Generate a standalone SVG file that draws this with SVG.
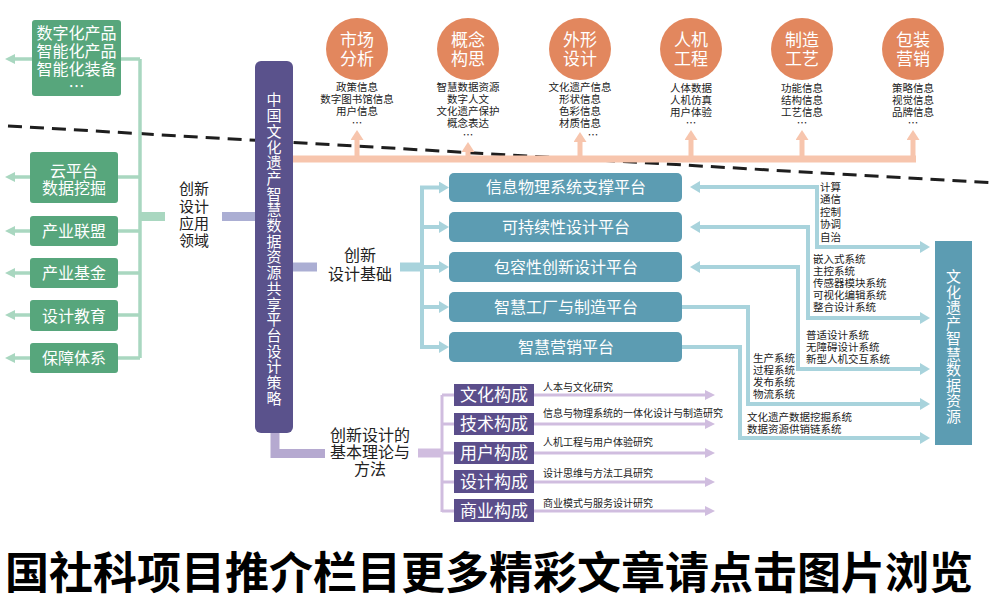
<svg xmlns="http://www.w3.org/2000/svg" width="1000" height="610" viewBox="0 0 1000 610">
<style>
text{font-family:"Noto Sans CJK SC","Noto Sans",sans-serif}
.w{fill:#fff;text-anchor:middle;font-size:16px}
.wv{fill:#fff;text-anchor:middle;font-size:15px}
.wc{fill:#fff;text-anchor:middle;font-size:17px}
.lb{fill:#222;text-anchor:middle;font-size:16px}
.lb15{fill:#222;text-anchor:middle;font-size:15px}
.sm{fill:#222;font-size:10.5px}
.smc{fill:#222;font-size:10.5px;text-anchor:middle}
.bs{fill:#222;font-size:10px}
.green{fill:#57a67c}
.teal{fill:#5c9cb2}
.purp{fill:#5b4e8b}
.gl{stroke:#a9d7c0;stroke-width:3.5;fill:none}
.bl{stroke:#a8d3dc;stroke-width:4;fill:none}
.sl{stroke:#f7c5ad;fill:none}
.ll{stroke:#d0bddf;stroke-width:3;fill:none}
</style>
<defs>
<marker id="aG" markerWidth="10" markerHeight="10" refX="4" refY="5" orient="auto" markerUnits="userSpaceOnUse"><path d="M0,0 L10,5 L0,10 z" fill="#a9d7c0"/></marker>
<marker id="aB" markerWidth="10" markerHeight="12" refX="4" refY="6" orient="auto-start-reverse" markerUnits="userSpaceOnUse"><path d="M0,0 L10,6 L0,12 z" fill="#a8d3dc"/></marker>
<marker id="aS" markerWidth="10" markerHeight="13" refX="4" refY="6.5" orient="auto" markerUnits="userSpaceOnUse"><path d="M0,0 L10,6.5 L0,13 z" fill="#f7c5ad"/></marker>
<marker id="aL" markerWidth="10" markerHeight="10" refX="4" refY="5" orient="auto" markerUnits="userSpaceOnUse"><path d="M0,0 L10,5 L0,10 z" fill="#d0bddf"/></marker>
</defs>
<rect width="1000" height="610" fill="#fff"/>
<!-- dashed divider -->
<path d="M8 126 L995 183" stroke="#1e1e1e" stroke-width="3" stroke-dasharray="14 8" fill="none"/>

<g id="connectors">
  <!-- green, left -->
  <path class="gl" d="M140 59 V358"/>
  <path class="gl" d="M121 59 H140 M118 177 H140 M118 231 H140 M118 273 H140 M118 315 H140 M118 358 H140"/>
  <path class="gl" d="M32 59 H11" marker-end="url(#aG)"/>
  <path class="gl" d="M30 177 H11" marker-end="url(#aG)"/>
  <path class="gl" d="M30 231 H11" marker-end="url(#aG)"/>
  <path class="gl" d="M30 273 H11" marker-end="url(#aG)"/>
  <path class="gl" d="M30 315 H11" marker-end="url(#aG)"/>
  <path class="gl" d="M30 358 H11" marker-end="url(#aG)"/>
  <path d="M140 216.5 H165" stroke="#a9d7c0" stroke-width="9"/>
  <path d="M222 216.5 H256" stroke="#abaed3" stroke-width="9"/>
  <!-- salmon, top -->
  <path class="sl" stroke-width="7" d="M292 159 H916"/>
  <path class="sl" stroke-width="5" d="M357 159 V136" marker-end="url(#aS)"/>
  <path class="sl" stroke-width="5" d="M468 159 V148" marker-end="url(#aS)"/>
  <path class="sl" stroke-width="5" d="M580 159 V138" marker-end="url(#aS)"/>
  <path class="sl" stroke-width="5" d="M691 159 V136" marker-end="url(#aS)"/>
  <path class="sl" stroke-width="5" d="M802 159 V136" marker-end="url(#aS)"/>
  <path class="sl" stroke-width="5" d="M913 161 V136" marker-end="url(#aS)"/>
  <!-- platforms bracket -->
  <path d="M293 267 H317" stroke="#abaed3" stroke-width="9"/>
  <path d="M400 267 H422" stroke="#a8d3dc" stroke-width="9"/>
  <path class="bl" d="M422 187 V347"/>
  <path class="bl" d="M420 187.5 H443" marker-end="url(#aB)"/>
  <path class="bl" d="M420 227 H443" marker-end="url(#aB)"/>
  <path class="bl" d="M420 267 H443" marker-end="url(#aB)"/>
  <path class="bl" d="M420 307 H443" marker-end="url(#aB)"/>
  <path class="bl" d="M420 347 H443" marker-end="url(#aB)"/>
  <!-- right side connectors -->
  <path class="bl" d="M696 187 H817 V247 H924" marker-start="url(#aB)" marker-end="url(#aB)"/>
  <path class="bl" d="M696 227 H808 V318 H924" marker-start="url(#aB)" marker-end="url(#aB)"/>
  <path class="bl" d="M696 267 H798 V369 H924" marker-start="url(#aB)" marker-end="url(#aB)"/>
  <path class="bl" d="M682 307 H748 V404 H924" marker-end="url(#aB)"/>
  <path class="bl" d="M682 347 H740 V438 H924" marker-end="url(#aB)"/>
  <!-- bottom lavender -->
  <path d="M275 430 V453.5 H325" stroke="#b5a9d0" stroke-width="9" fill="none"/>
  <path d="M418 453 H442" stroke="#d0bddf" stroke-width="9"/>
  <path class="ll" stroke-width="4" d="M442 395 V512"/>
  <path class="ll" stroke-width="4" d="M442 395 H456 M442 424 H456 M442 453 H456 M442 482 H456 M442 511 H456"/>
  <path class="ll" d="M534 395 H709" marker-end="url(#aL)"/>
  <path class="ll" d="M534 424 H709" marker-end="url(#aL)"/>
  <path class="ll" d="M534 453 H709" marker-end="url(#aL)"/>
  <path class="ll" d="M534 482 H709" marker-end="url(#aL)"/>
  <path class="ll" d="M534 511 H709" marker-end="url(#aL)"/>
</g>

<!-- left green nodes -->
<g id="n-products">
  <rect class="green" x="32" y="20" width="89" height="76" rx="3"/>
  <text class="w" x="76.5" y="39">数字化产品</text>
  <text class="w" x="76.5" y="57">智能化产品</text>
  <text class="w" x="76.5" y="75">智能化装备</text>
  <text class="w" x="76.5" y="92">…</text>
</g>
<g id="n-cloud">
  <rect class="green" x="30" y="152" width="88" height="51" rx="3"/>
  <text class="w" x="74" y="177">云平台</text>
  <text class="w" x="74" y="194">数据挖掘</text>
</g>
<g id="n-alliance"><rect class="green" x="30" y="216" width="88" height="30" rx="3"/><text class="w" x="74" y="237">产业联盟</text></g>
<g id="n-fund"><rect class="green" x="30" y="258" width="88" height="30" rx="3"/><text class="w" x="74" y="279">产业基金</text></g>
<g id="n-edu"><rect class="green" x="30" y="300" width="88" height="31" rx="3"/><text class="w" x="74" y="321.5">设计教育</text></g>
<g id="n-guarantee"><rect class="green" x="30" y="343" width="88" height="30" rx="3"/><text class="w" x="74" y="364">保障体系</text></g>

<g id="l-app">
  <text class="lb15" x="194" y="193.5">创新</text>
  <text class="lb15" x="194" y="211.5">设计</text>
  <text class="lb15" x="194" y="228.5">应用</text>
  <text class="lb15" x="194" y="245.5">领域</text>
</g>

<!-- central bar -->
<g id="n-strategy">
  <rect x="255" y="61" width="38" height="372" rx="6" fill="#5a528c"/>
  <text class="wv">
    <tspan x="274" y="105.4">中</tspan><tspan x="274" y="121.1">国</tspan><tspan x="274" y="136.8">文</tspan><tspan x="274" y="152.5">化</tspan><tspan x="274" y="168.2">遗</tspan><tspan x="274" y="183.9">产</tspan><tspan x="274" y="199.6">智</tspan><tspan x="274" y="215.3">慧</tspan><tspan x="274" y="231">数</tspan><tspan x="274" y="246.7">据</tspan><tspan x="274" y="262.4">资</tspan><tspan x="274" y="278.1">源</tspan><tspan x="274" y="293.8">共</tspan><tspan x="274" y="309.5">享</tspan><tspan x="274" y="325.2">平</tspan><tspan x="274" y="340.9">台</tspan><tspan x="274" y="356.6">设</tspan><tspan x="274" y="372.3">计</tspan><tspan x="274" y="388">策</tspan><tspan x="274" y="403.7">略</tspan>
  </text>
</g>

<!-- top circles -->
<g id="c-market">
  <circle cx="357" cy="49" r="31" fill="#e2875e"/>
  <text class="wc" x="357" y="46">市场</text><text class="wc" x="357" y="65">分析</text>
  <text class="smc"><tspan x="357" y="90.8">政策信息</tspan><tspan x="357" y="102.8">数字图书馆信息</tspan><tspan x="357" y="114.8">用户信息</tspan><tspan x="357" y="126.5">…</tspan></text>
</g>
<g id="c-concept">
  <circle cx="468" cy="49" r="31" fill="#e2875e"/>
  <text class="wc" x="468" y="46">概念</text><text class="wc" x="468" y="65">构思</text>
  <text class="smc"><tspan x="468" y="90.8">智慧数据资源</tspan><tspan x="468" y="102.8">数字人文</tspan><tspan x="468" y="114.8">文化遗产保护</tspan><tspan x="468" y="126.8">概念表达</tspan><tspan x="468" y="138.5">…</tspan></text>
</g>
<g id="c-shape">
  <circle cx="580" cy="49" r="31" fill="#e2875e"/>
  <text class="wc" x="580" y="46">外形</text><text class="wc" x="580" y="65">设计</text>
  <text class="smc"><tspan x="580" y="90.8">文化遗产信息</tspan><tspan x="580" y="102.8">形状信息</tspan><tspan x="580" y="114.8">色彩信息</tspan><tspan x="580" y="126.8">材质信息</tspan><tspan x="593" y="138.5">…</tspan></text>
</g>
<g id="c-ergo">
  <circle cx="691" cy="49" r="31" fill="#e2875e"/>
  <text class="wc" x="691" y="46">人机</text><text class="wc" x="691" y="65">工程</text>
  <text class="smc"><tspan x="691" y="91.8">人体数据</tspan><tspan x="691" y="103.8">人机仿真</tspan><tspan x="691" y="115.8">用户体验</tspan><tspan x="691" y="127">…</tspan></text>
</g>
<g id="c-craft">
  <circle cx="802" cy="49" r="31" fill="#e2875e"/>
  <text class="wc" x="802" y="46">制造</text><text class="wc" x="802" y="65">工艺</text>
  <text class="smc"><tspan x="802" y="91.8">功能信息</tspan><tspan x="802" y="103.8">结构信息</tspan><tspan x="802" y="115.8">工艺信息</tspan><tspan x="802" y="127">…</tspan></text>
</g>
<g id="c-pack">
  <circle cx="913" cy="49" r="31" fill="#e2875e"/>
  <text class="wc" x="913" y="46">包装</text><text class="wc" x="913" y="65">营销</text>
  <text class="smc"><tspan x="913" y="91.8">策略信息</tspan><tspan x="913" y="103.8">视觉信息</tspan><tspan x="913" y="115.8">品牌信息</tspan><tspan x="913" y="127">…</tspan></text>
</g>

<g id="l-base">
  <text class="lb" x="360" y="261">创新</text>
  <text class="lb" x="360" y="280">设计基础</text>
</g>

<!-- platforms -->
<g id="p-cps"><rect class="teal" x="449" y="173" width="233" height="29" rx="5"/><text class="w" x="566" y="193.3">信息物理系统支撑平台</text></g>
<g id="p-sust"><rect class="teal" x="449" y="212" width="233" height="30" rx="5"/><text class="w" x="566" y="233">可持续性设计平台</text></g>
<g id="p-incl"><rect class="teal" x="449" y="252" width="233" height="30" rx="5"/><text class="w" x="566" y="273">包容性创新设计平台</text></g>
<g id="p-fact"><rect class="teal" x="449" y="292" width="233" height="30" rx="5"/><text class="w" x="566" y="313">智慧工厂与制造平台</text></g>
<g id="p-mkt"><rect class="teal" x="449" y="332" width="233" height="30" rx="5"/><text class="w" x="566" y="353">智慧营销平台</text></g>

<!-- right labels -->
<g id="l-right">
  <text class="sm"><tspan x="820" y="190.8">计算</tspan><tspan x="820" y="203.3">通信</tspan><tspan x="820" y="215.8">控制</tspan><tspan x="820" y="228.3">协调</tspan><tspan x="820" y="240.8">自治</tspan></text>
  <text class="sm"><tspan x="813" y="262.8">嵌入式系统</tspan><tspan x="813" y="274.8">主控系统</tspan><tspan x="813" y="286.8">传感器模块系统</tspan><tspan x="813" y="298.8">可视化编辑系统</tspan><tspan x="813" y="310.8">整合设计系统</tspan></text>
  <text class="sm"><tspan x="806" y="338.8">普适设计系统</tspan><tspan x="806" y="350.8">无障碍设计系统</tspan><tspan x="806" y="362.8">新型人机交互系统</tspan></text>
  <text class="sm"><tspan x="753" y="361.8">生产系统</tspan><tspan x="753" y="373.8">过程系统</tspan><tspan x="753" y="385.8">发布系统</tspan><tspan x="753" y="397.8">物流系统</tspan></text>
  <text class="sm"><tspan x="747" y="421.3">文化遗产数据挖掘系统</tspan><tspan x="747" y="433">数据资源供销链系统</tspan></text>
</g>

<g id="n-resource">
  <rect class="teal" x="935" y="241" width="37" height="204"/>
  <text class="wv"><tspan x="953.5" y="282.4">文</tspan><tspan x="953.5" y="297.9">化</tspan><tspan x="953.5" y="313.4">遗</tspan><tspan x="953.5" y="328.9">产</tspan><tspan x="953.5" y="344.4">智</tspan><tspan x="953.5" y="359.9">慧</tspan><tspan x="953.5" y="375.4">数</tspan><tspan x="953.5" y="390.9">据</tspan><tspan x="953.5" y="406.4">资</tspan><tspan x="953.5" y="421.9">源</tspan></text>
</g>

<g id="l-theory">
  <text class="lb" x="370" y="440.5">创新设计的</text>
  <text class="lb" x="370" y="457.5">基本理论与</text>
  <text class="lb" x="370" y="474.5">方法</text>
</g>

<g id="b-culture"><rect class="purp" x="454" y="384" width="80" height="22"/><text class="wc" x="494" y="401">文化构成</text></g>
<g id="b-tech"><rect class="purp" x="454" y="413" width="80" height="22"/><text class="wc" x="494" y="430">技术构成</text></g>
<g id="b-user"><rect class="purp" x="454" y="442" width="80" height="22"/><text class="wc" x="494" y="459">用户构成</text></g>
<g id="b-design"><rect class="purp" x="454" y="470" width="80" height="23"/><text class="wc" x="494" y="487.5">设计构成</text></g>
<g id="b-biz"><rect class="purp" x="454" y="499" width="80" height="23"/><text class="wc" x="494" y="516.5">商业构成</text></g>

<g id="l-research">
  <text class="bs" x="543" y="390.6">人本与文化研究</text>
  <text class="bs" x="543" y="416.6">信息与物理系统的一体化设计与制造研究</text>
  <text class="bs" x="543" y="445.6">人机工程与用户体验研究</text>
  <text class="bs" x="543" y="476.6">设计思维与方法工具研究</text>
  <text class="bs" x="543" y="506.6">商业模式与服务设计研究</text>
</g>

<text x="5" y="589" font-size="44" font-weight="bold" fill="#000">国社科项目推介栏目更多精彩文章请点击图片浏览</text>
</svg>
